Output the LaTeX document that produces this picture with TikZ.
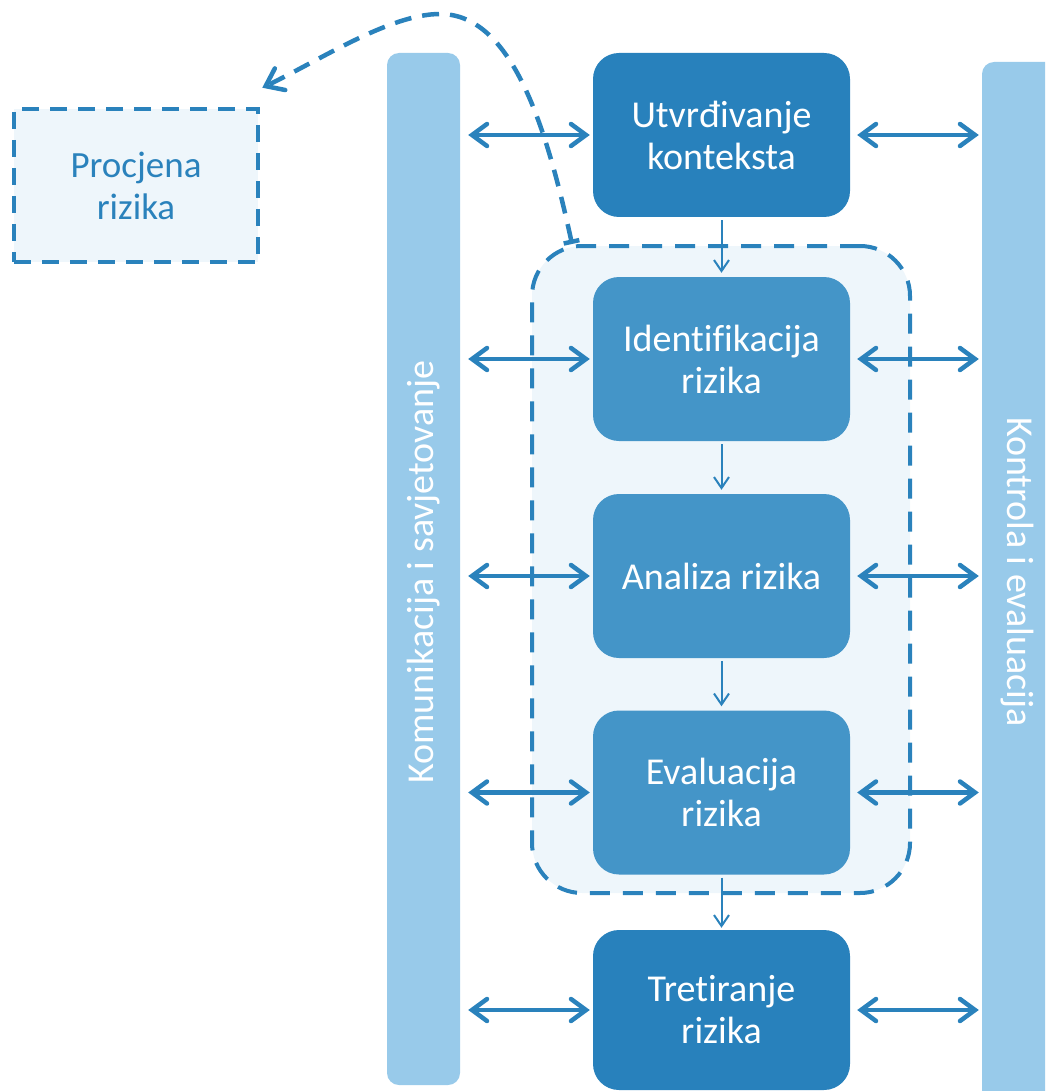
\documentclass[tikz,border=0pt]{standalone}
\usepackage{fontspec}
\setmainfont[Ligatures=NoCommon]{Carlito}
\usetikzlibrary{arrows.meta,calc}
\definecolor{darkbox}{HTML}{2881BC}
\definecolor{midbox}{HTML}{4495C8}
\definecolor{barblue}{HTML}{98CAEA}
\definecolor{paleblue}{HTML}{EEF6FB}
\definecolor{lineblue}{HTML}{2A82BC}
\begin{document}
\begin{tikzpicture}[x=1pt,y=-1pt,
  bigfont/.style={font=\fontsize{38}{42}\selectfont},
  procbox/.style={rectangle, rounded corners=26pt, minimum width=257pt, minimum height=164pt,
    text=white, align=center, inner sep=0pt, bigfont},
  darkstep/.style={procbox, fill=darkbox},
  midstep/.style={procbox, fill=midbox},
  sidebar/.style={rectangle, rounded corners=12pt, fill=barblue, inner sep=0pt},
  barlabel/.style={text=white, bigfont, inner sep=0pt},
  dbl/.style={draw=lineblue, line width=4.5pt, line cap=round,
    {Straight Barb[length=15pt,width=22pt,line cap=round]}-{Straight Barb[length=15pt,width=22pt,line cap=round]}},
  down/.style={draw=lineblue, line width=2pt,
    -{Straight Barb[length=11pt,width=15pt]}},
  dashbox/.style={rectangle, draw=lineblue, line width=4.5pt, dash pattern=on 17pt off 11pt, fill=paleblue},
  feedback/.style={draw=lineblue, line width=4.5pt, dash pattern=on 17pt off 11pt,
    {Bar[width=16pt]}-{Straight Barb[length=16pt,width=24pt,line cap=round]}}
]
\useasboundingbox (0,0) rectangle (1045,1091);
\clip (0,0) rectangle (1045,1091);

% side bars
\node[sidebar, minimum width=73pt, minimum height=1032pt] (lb) at (423.5,569) {};
\node[sidebar, minimum width=80pt, minimum height=1040pt] (rb) at (1022,582) {};
\node[barlabel, rotate=90] (lbl) at (lb.center |- 0,572) {Komunikacija i savjetovanje};
\node[barlabel, rotate=-90] (rbl) at (1017,572) {Kontrola i evaluacija};

% assessment group
\node[dashbox, rounded corners=50pt, minimum width=378pt, minimum height=647pt,
  dash pattern=on 20pt off 13pt, line width=4pt] (grp) at (721,569.5) {};

% process steps
\node[darkstep] (b1) at (721.5,135) {Utvrđivanje\\konteksta};
\node[midstep] (b2) at (721.5,359) {Identifikacija\\rizika};
\node[midstep] (b3) at (721.5,576) {Analiza rizika};
\node[midstep] (b4) at (721.5,792.5) {Evaluacija\\rizika};
\node[darkstep, minimum height=160pt] (b5) at (721.5,1010) {Tretiranje\\rizika};

% procjena
\node[dashbox, minimum width=244pt, minimum height=153pt, text=lineblue, align=center, font=\fontsize{37}{42}\selectfont] (pr) at (136,185.5) {Procjena\\rizika};

% vertical arrows
\draw[down] ([yshift=-3pt]b1.south) -- ([yshift=4pt]b2.north);
\draw[down] ([yshift=-3pt]b2.south) -- ([yshift=4pt]b3.north);
\draw[down] ([yshift=-3pt]b3.south) -- ([yshift=4pt]b4.north);
\draw[down] ([yshift=-3pt]b4.south) -- ([yshift=2pt]b5.north);

% side arrows
\foreach \b in {b1,b2,b3,b4,b5}{
  \draw[dbl] ([xshift=8pt]lb.east |- \b.west) -- ([xshift=-3pt]\b.west);
  \draw[dbl] ([xshift=7pt]\b.east) -- ([xshift=-3pt]rb.west |- \b.east);
}

% feedback curve
\coordinate (cs) at ($(grp.north west)+(42,0)$);
\coordinate (ctop) at (440,14);
\coordinate (ce) at ($(pr.north east)+(2,-19)$);
\draw[feedback] (cs) .. controls (545,120) and (510,14) .. (ctop) .. controls (390,14) and (320,60) .. (ce);
\end{tikzpicture}
\end{document}
